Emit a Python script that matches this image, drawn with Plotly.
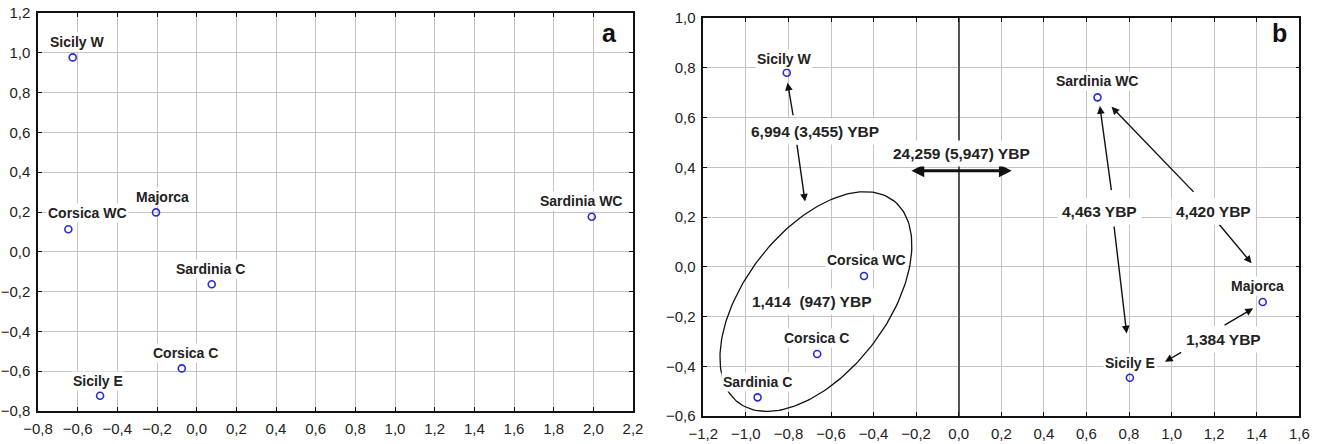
import numpy as np
import plotly.graph_objects as go

# ---------------- data ----------------
a_labels = ["Sicily W", "Majorca", "Corsica WC", "Sardinia WC", "Sardinia C", "Corsica C", "Sicily E"]
a_x = [-0.625, -0.205, -0.647, 1.992, 0.076, -0.075, -0.487]
a_y = [0.977, 0.198, 0.113, 0.176, -0.163, -0.586, -0.723]

b_labels = ["Sicily W", "Sardinia WC", "Corsica WC", "Corsica C", "Sardinia C", "Majorca", "Sicily E"]
b_x = [-0.808, 0.652, -0.445, -0.665, -0.945, 1.428, 0.804]
b_y = [0.780, 0.681, -0.037, -0.351, -0.525, -0.142, -0.446]

# divergence-time labels (panel b)
t_text = ["6,994 (3,455) YBP", "24,259 (5,947) YBP", "4,463 YBP", "4,420 YBP", "1,384 YBP", "1,414\u00a0 (947) YBP"]
t_x = [-0.675, 0.013, 0.663, 1.199, 1.242, -0.691]
t_y = [0.543, 0.455, 0.221, 0.221, -0.294, -0.140]

# arrows (tail -> head) in panel b
arr_tail_x = [-0.777, -0.761, 0.718, 0.729, 1.110, 1.219, 1.242, 1.052]
arr_tail_y = [0.603, 0.497, 0.302, 0.168, 0.295, 0.175, -0.238, -0.341]
arr_head_x = [-0.804, -0.722, 0.663, 0.789, 0.718, 1.376, 1.383, 0.969]
arr_head_y = [0.740, 0.262, 0.646, -0.268, 0.643, 0.014, -0.167, -0.382]

# double arrow
dbl_x = [-0.229, 0.249]
dbl_y = [0.386, 0.386]

# ellipse (center, major / minor half-axis vectors) in panel b data units
ell_center = (-0.671, -0.140)
ell_u = (0.366, 0.405)
ell_v = (-0.263, 0.176)

a_xticks = [round(-0.8 + 0.2 * i, 1) for i in range(16)]
a_yticks = [round(-0.8 + 0.2 * i, 1) for i in range(11)]
b_xticks = [round(-1.2 + 0.2 * i, 1) for i in range(15)]
b_yticks = [round(-0.6 + 0.2 * i, 1) for i in range(9)]

# label pixel offsets (style)
a_dx = [4, 6, 19.5, -11, -1, 4, -2]
a_dy = [15, 15, 16, 16, 15, 15, 15]
b_dx = [-3, -1, 2, -1, 0, -5, 0]
b_dy = [14, 16, 16, 16, 15, 16, 15]

# ---------------- figure ----------------
W, H = 1320, 444
fig = go.Figure()

MARK = dict(symbol="circle-open", size=7, color="#2a2ad8", line=dict(width=1.6, color="#2a2ad8"))

fig.add_trace(go.Scatter(x=a_x, y=a_y, mode="markers", marker=MARK, xaxis="x", yaxis="y",
                         showlegend=False, hoverinfo="skip"))

t = np.linspace(0, 2 * np.pi, 200)
ex = ell_center[0] + ell_u[0] * np.cos(t) + ell_v[0] * np.sin(t)
ey = ell_center[1] + ell_u[1] * np.cos(t) + ell_v[1] * np.sin(t)
fig.add_trace(go.Scatter(x=ex, y=ey, mode="lines", line=dict(color="#111", width=1.3),
                         xaxis="x2", yaxis="y2", showlegend=False, hoverinfo="skip"))

fig.add_trace(go.Scatter(x=b_x, y=b_y, mode="markers", marker=MARK, xaxis="x2", yaxis="y2",
                         showlegend=False, hoverinfo="skip"))

TICKFONT = dict(family="Liberation Sans, Arial, sans-serif", size=15, color="#222")
axis_common = dict(showgrid=True, gridcolor="#c4c4c4", gridwidth=1, showline=True, linecolor="#111",
                   linewidth=1.5, mirror="ticks", ticks="inside", ticklen=4, tickwidth=1, tickcolor="#111",
                   tickfont=TICKFONT, zeroline=False, automargin=False, fixedrange=True)

def px_dom(p0, p1, total):
    return [p0 / total, p1 / total]

fig.update_layout(
    width=W, height=H,
    margin=dict(l=0, r=0, t=0, b=0),
    paper_bgcolor="white", plot_bgcolor="white",
    separators=", ",
    xaxis=dict(axis_common, domain=px_dom(38, 633, W), range=[-0.8, 2.2], tickvals=a_xticks,
               tickformat=".1f", ticklabelstandoff=3),
    yaxis=dict(axis_common, domain=[1 - 411 / H, 1 - 13 / H], range=[-0.8, 1.2], tickvals=a_yticks,
               tickformat=".1f", ticklabelstandoff=3),
    xaxis2=dict(axis_common, domain=px_dom(703.3, 1299.3, W), range=[-1.2, 1.6], tickvals=b_xticks,
                tickformat=".1f", ticklabelstandoff=3, anchor="y2",
                zeroline=True, zerolinecolor="#555", zerolinewidth=2),
    yaxis2=dict(axis_common, domain=[1 - 416 / H, 1 - 18 / H], range=[-0.6, 1.0], tickvals=b_yticks,
                tickformat=".1f", ticklabelstandoff=3, anchor="x2"),
)

LABFONT = dict(family="Liberation Sans, Arial, sans-serif", size=14, color="#222", weight="bold")
BIGFONT = dict(family="Liberation Sans, Arial, sans-serif", size=15.5, color="#222", weight="bold")

ann = []
# arrows first (so text boxes sit on top)
for tx, ty, hx, hy in zip(arr_tail_x, arr_tail_y, arr_head_x, arr_head_y):
    ann.append(dict(xref="x2", yref="y2", axref="x2", ayref="y2", x=hx, y=hy, ax=tx, ay=ty,
                    text="", showarrow=True, arrowhead=2, arrowsize=1.1, arrowwidth=1.4,
                    arrowcolor="#111", standoff=0, startstandoff=0))
ann.append(dict(xref="x2", yref="y2", axref="x2", ayref="y2", x=dbl_x[1], y=dbl_y[1],
                ax=dbl_x[0], ay=dbl_y[0], text="", showarrow=True, arrowhead=2, arrowside="end+start",
                arrowsize=0.8, arrowwidth=3.2, arrowcolor="#111", standoff=0, startstandoff=0))

for lab, x, y, dx, dy in zip(a_labels, a_x, a_y, a_dx, a_dy):
    ann.append(dict(xref="x", yref="y", x=x, y=y, xshift=dx, yshift=dy, text=lab, showarrow=False,
                    font=LABFONT, bgcolor="white", borderpad=1))
for lab, x, y, dx, dy in zip(b_labels, b_x, b_y, b_dx, b_dy):
    ann.append(dict(xref="x2", yref="y2", x=x, y=y, xshift=dx, yshift=dy, text=lab, showarrow=False,
                    font=LABFONT, bgcolor="white", borderpad=1))
for lab, x, y in zip(t_text, t_x, t_y):
    ann.append(dict(xref="x2", yref="y2", x=x, y=y, text=lab, showarrow=False,
                    font=BIGFONT, bgcolor="white", borderpad=4))

PANELFONT = dict(family="Liberation Sans, Arial, sans-serif", size=25, color="#111", weight="bold")
ann.append(dict(xref="x domain", yref="y domain", x=0.96, y=0.949, xanchor="center", yanchor="middle",
                text="a", showarrow=False, font=PANELFONT))
ann.append(dict(xref="x2 domain", yref="y2 domain", x=0.9676, y=0.9616, xanchor="center", yanchor="middle",
                text="b", showarrow=False, font=PANELFONT))

fig.update_layout(annotations=ann)
fig.write_html("out.html", config={"displayModeBar": False},
               post_script="document.body.style.margin='0';document.body.style.overflow='hidden';")
